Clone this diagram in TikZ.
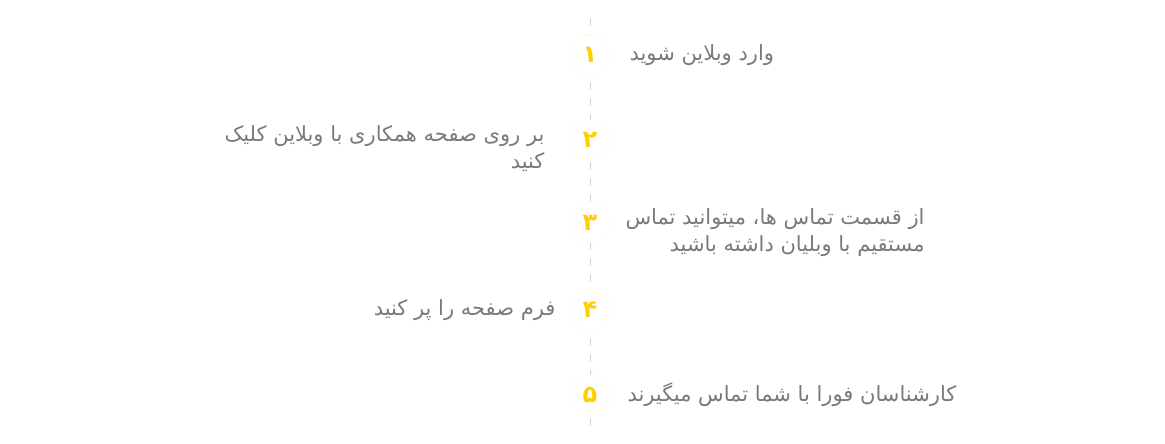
\documentclass[tikz,border=0pt]{standalone}
\usepackage{fontspec}
\newfontfamily\arabicfont[Script=Arabic]{DejaVu Sans}
\TeXXeTstate=1
\definecolor{stepyellow}{HTML}{FFD000}
\definecolor{steptext}{HTML}{7A7A7A}
\tikzset{
  stepcircle/.style={circle, draw=stepyellow!15, fill=white, minimum size=40pt, inner sep=0pt,
    font=\arabicfont\fontsize{24}{24}\selectfont\bfseries, text=stepyellow},
  steplabel/.style={font=\arabicfont\fontsize{21}{27}\selectfont, text=steptext, align=right}
}
\begin{document}
\begin{tikzpicture}[x=1pt,y=-1pt]
    \useasboundingbox (0,0) rectangle (1165,444);

    % Timeline
    \coordinate (top) at (590,18);
    \coordinate (bottom) at (590,430);
    \draw[gray!40, dashed, dash pattern=on 7pt off 9pt] (top) -- (bottom);

    % Steps
    \node[stepcircle] (s1) at (590,55) {\beginR ۱\endR};
    \node[stepcircle] (s2) at (590,140) {\beginR ۲\endR};
    \node[stepcircle] (s3) at (590,223) {\beginR ۳\endR};
    \node[stepcircle] (s4) at (590,310) {\beginR ۴\endR};
    \node[stepcircle] (s5) at (590,395) {\beginR ۵\endR};

    % Texts
    \node[steplabel, anchor=west] (t1) at (626,55) {\beginR وارد وبلاین شوید\endR};
    \node[steplabel, anchor=east] (t2) at (548,149) {\beginR بر روی صفحه همکاری با وبلاین کلیک\endR\\ \beginR کنید\endR};
    \node[steplabel, anchor=west] (t3) at (622,233) {\beginR از قسمت تماس ها، میتوانید تماس\endR\\ \beginR مستقیم با وبلیان داشته باشید\endR};
    \node[steplabel, anchor=east] (t4) at (559,310) {\beginR فرم صفحه را پر کنید\endR};
    \node[steplabel, anchor=west] (t5) at (624,395) {\beginR کارشناسان فورا با شما تماس میگیرند\endR};
\end{tikzpicture}
\end{document}
